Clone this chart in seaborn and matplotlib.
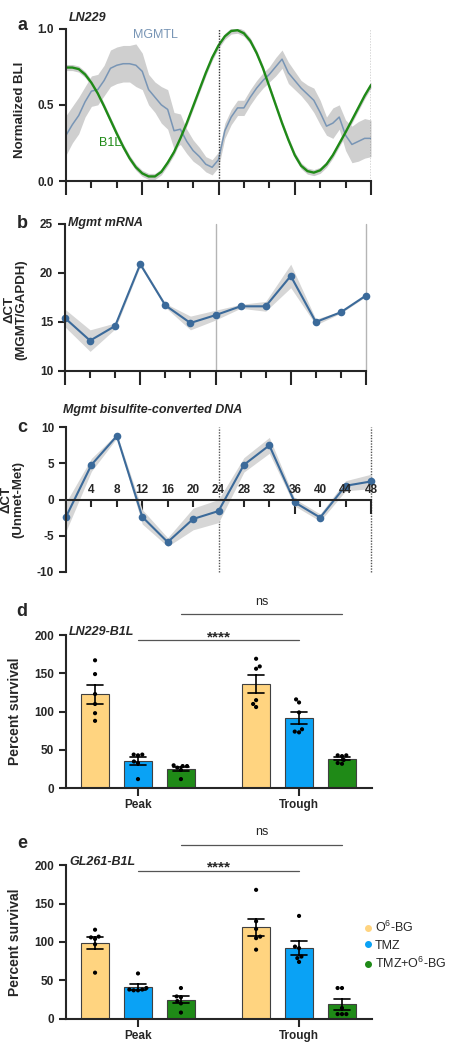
import pandas as pd
import seaborn as sns
from matplotlib import pyplot as plt
from matplotlib.lines import Line2D
from matplotlib.ticker import FixedLocator

px = 1/100

# ---- panel a: bioluminescence traces (hourly readings) ----
hours_a = list(range(49))
b1l = [0.745, 0.745, 0.735, 0.70, 0.645, 0.575, 0.49, 0.40, 0.31, 0.225,
       0.15, 0.09, 0.05, 0.03, 0.03, 0.06, 0.12, 0.19, 0.28, 0.38,
       0.49, 0.60, 0.71, 0.81, 0.89, 0.95, 0.985, 0.99, 0.97, 0.92,
       0.84, 0.74, 0.62, 0.50, 0.38, 0.27, 0.17, 0.10, 0.065, 0.055,
       0.07, 0.11, 0.17, 0.245, 0.32, 0.40, 0.48, 0.56, 0.63]
b1l_err = 0.02
mgmtl = [0.30, 0.37, 0.43, 0.52, 0.59, 0.60, 0.66, 0.74, 0.76, 0.77,
         0.77, 0.76, 0.72, 0.60, 0.55, 0.50, 0.47, 0.33, 0.34, 0.26,
         0.20, 0.16, 0.11, 0.09, 0.14, 0.33, 0.42, 0.48, 0.48, 0.55,
         0.61, 0.66, 0.70, 0.75, 0.80, 0.71, 0.66, 0.61, 0.57, 0.53,
         0.45, 0.36, 0.38, 0.42, 0.30, 0.24, 0.26, 0.28, 0.28]
mgmtl_err = [0.13, 0.12, 0.12, 0.10, 0.10, 0.10, 0.10, 0.12, 0.12, 0.12,
             0.12, 0.14, 0.12, 0.10, 0.10, 0.12, 0.13, 0.12, 0.10, 0.08,
             0.07, 0.06, 0.05, 0.05, 0.05, 0.05, 0.05, 0.05, 0.05, 0.05,
             0.05, 0.05, 0.05, 0.06, 0.06, 0.07, 0.06, 0.05, 0.06, 0.08,
             0.08, 0.06, 0.10, 0.08, 0.10, 0.12, 0.13, 0.13, 0.12]

# ---- panels b, c: qPCR every 4 h ----
hours = [0, 4, 8, 12, 16, 20, 24, 28, 32, 36, 40, 44, 48]
major_hours = [0, 12, 24, 36, 48]
minor_hours = [4, 8, 16, 20, 28, 32, 40, 44]
mrna = [15.4, 13.1, 14.6, 20.9, 16.7, 14.9, 15.7, 16.6, 16.6, 19.7, 15.0, 16.0, 17.7]
mrna_err = [0.9, 1.1, 0.3, 0.2, 0.2, 0.7, 0.5, 0.2, 0.5, 1.2, 0.3, 0.1, 0.1]
dna = [-2.4, 4.8, 8.8, -2.4, -5.9, -2.7, -1.6, 4.8, 7.5, -0.4, -2.5, 1.9, 2.5]
dna_err = [2.0, 0.9, 0.3, 1.0, 0.6, 1.5, 1.6, 1.0, 1.1, 0.5, 0.5, 0.7, 1.0]

# ---- panels d, e: survival ----
phases = ['Peak', 'Trough']
treatments = ['O$^6$-BG', 'TMZ', 'TMZ+O$^6$-BG']
colors = ['#ffd480', '#0aa2f5', '#1f8a17']

ln229 = {
    ('Peak', 'O$^6$-BG'): [167, 149, 123, 110, 98, 88],
    ('Peak', 'TMZ'): [44, 44, 43, 35, 33, 12],
    ('Peak', 'TMZ+O$^6$-BG'): [30, 29, 29, 27, 24, 12],
    ('Trough', 'O$^6$-BG'): [169, 159, 156, 115, 110, 106],
    ('Trough', 'TMZ'): [116, 112, 99, 77, 74, 73],
    ('Trough', 'TMZ+O$^6$-BG'): [43, 43, 42, 37, 33, 32],
}
gl261 = {
    ('Peak', 'O$^6$-BG'): [116, 107, 106, 104, 97, 60],
    ('Peak', 'TMZ'): [59, 40, 38, 38, 37, 37],
    ('Peak', 'TMZ+O$^6$-BG'): [40, 29, 28, 23, 20, 8],
    ('Trough', 'O$^6$-BG'): [168, 127, 117, 107, 105, 90],
    ('Trough', 'TMZ'): [134, 94, 92, 81, 79, 74],
    ('Trough', 'TMZ+O$^6$-BG'): [40, 40, 14, 6, 6, 6],
}

sns.set_style('ticks')
plt.rcParams['font.family'] = ['Liberation Sans', 'DejaVu Sans']
plt.rcParams['font.weight'] = 'bold'
plt.rcParams['axes.labelweight'] = 'bold'
plt.rcParams['axes.linewidth'] = 1.5
plt.rcParams['axes.unicode_minus'] = False
plt.rcParams['mathtext.default'] = 'regular'

TICK_FS = 8.5

W, H = 455, 1050
fig = plt.figure(figsize=(W*px, H*px), dpi=100)


def box(l, t, r, b):
    return [l/W, 1 - b/H, (r - l)/W, (b - t)/H]


def style_time(ax):
    ax.set_xlim(0, 48)
    ax.xaxis.set_major_locator(FixedLocator(major_hours))
    ax.xaxis.set_minor_locator(FixedLocator(minor_hours))
    ax.tick_params(axis='x', which='major', length=10, width=1.5, labelbottom=False)
    ax.tick_params(axis='x', which='minor', length=5, width=1.5)
    ax.tick_params(axis='y', length=5, width=1.5, labelsize=TICK_FS)
    ax.set_xlabel('')
    sns.despine(ax=ax)


def panel_letter(x, y, s):
    fig.text(x/W, 1 - y/H, s, fontsize=13, ha='center', va='center')


# ---- a ----
ax = fig.add_axes(box(66, 28.7, 371, 181))
ax.fill_between(hours_a, [m - e for m, e in zip(mgmtl, mgmtl_err)],
                [m + e for m, e in zip(mgmtl, mgmtl_err)], color='#cfcfcf', lw=0)
ax.fill_between(hours_a, [v - b1l_err for v in b1l], [v + b1l_err for v in b1l],
                color='#cccccc', lw=0)
sns.lineplot(x=hours_a, y=mgmtl, color='#7895b5', lw=1.1, ax=ax)
sns.lineplot(x=hours_a, y=b1l, color='#1f8a17', lw=1.7, ax=ax)
for h in [24, 48]:
    ax.axvline(h, color='#333333', lw=1, ls=(0, (1, 1)))
ax.set_ylim(0, 1.0)
ax.set_yticks([0, 0.5, 1.0])
style_time(ax)
ax.set_ylabel('Normalized BLI', fontsize=9.5)
ax.yaxis.set_label_coords(-0.13, 0.47)
ax.text(14.0, 0.96, 'MGMTL', color='#7895b5', fontsize=9, fontweight='normal',
        ha='center', va='center')
ax.text(7.0, 0.25, 'B1L', color='#1f8a17', fontsize=9, fontweight='normal',
        ha='center', va='center')
ax.text(0.01, 1.07, 'LN229', transform=ax.transAxes, fontsize=9, style='italic',
        va='center')
panel_letter(22, 26, 'a')

# ---- b ----
ax = fig.add_axes(box(65, 224, 366, 371))
ax.fill_between(hours, [m - e for m, e in zip(mrna, mrna_err)],
                [m + e for m, e in zip(mrna, mrna_err)], color='#d6d6d6', lw=0)
sns.lineplot(x=hours, y=mrna, color='#3b6a9a', lw=1.5, marker='o', markersize=5.5,
             markeredgewidth=0, ax=ax)
for h in [24, 48]:
    ax.axvline(h, color='#b5b5b5', lw=1, zorder=0)
ax.set_ylim(10, 25)
ax.set_yticks([10, 15, 20, 25])
style_time(ax)
for ln in ax.lines:
    ln.set_clip_on(False)
ax.set_ylabel('ΔCT\n(MGMT/GAPDH)', fontsize=9.5, linespacing=1.0)
ax.yaxis.set_label_coords(-0.125, 0.42)
ax.text(0.01, 1.01, 'Mgmt mRNA', transform=ax.transAxes, fontsize=9, style='italic',
        va='center')
panel_letter(22, 224, 'b')

# ---- c ----
ax = fig.add_axes(box(66, 427.3, 371, 571.7))
ax.fill_between(hours, [m - e for m, e in zip(dna, dna_err)],
                [m + e for m, e in zip(dna, dna_err)], color='#d6d6d6', lw=0)
sns.lineplot(x=hours, y=dna, color='#3b6a9a', lw=1.5, marker='o', markersize=5.5,
             markeredgewidth=0, ax=ax)
for h in [24, 48]:
    ax.axvline(h, color='#555555', lw=1, ls=(0, (1, 1)), zorder=0)
ax.set_ylim(-10, 10)
ax.set_yticks([-10, -5, 0, 5, 10])
style_time(ax)
ax.spines['bottom'].set_position(('data', 0))
for ln in ax.lines:
    ln.set_clip_on(False)
for h in hours[1:]:
    ax.annotate(str(h), (h, 0), xytext=(0, 2.5), textcoords='offset points',
                ha='center', va='bottom', fontsize=TICK_FS)
ax.set_ylabel('ΔCT\n(Unmet-Met)', fontsize=9.5, linespacing=1.0)
ax.yaxis.set_label_coords(-0.135, 0.5)
ax.text(-0.01, 1.12, 'Mgmt bisulfite-converted DNA', transform=ax.transAxes,
        fontsize=9, style='italic', va='center')
panel_letter(22, 427, 'c')


# ---- d, e ----
def long_table(d):
    rows = []
    for (ph, tr), vals in d.items():
        for v in vals:
            rows.append({'phase': ph, 'treatment': tr, 'value': v})
    return pd.DataFrame(rows)


def survival(rect, data, title, letter, letter_y):
    ax = fig.add_axes(rect)
    df = long_table(data)
    sns.barplot(data=df, x='phase', y='value', hue='treatment', order=phases,
                hue_order=treatments, palette=colors, saturation=1, errorbar='se',
                capsize=0.3, width=0.8, gap=0.33, edgecolor='#404040', linewidth=0.8,
                err_kws={'color': 'black', 'linewidth': 1.2}, legend=False, ax=ax)
    sns.swarmplot(data=df, x='phase', y='value', hue='treatment', order=phases,
                  hue_order=treatments, palette=['black'] * 3, dodge=True, size=3,
                  legend=False, ax=ax)
    ax.set_xlim(-0.447, 1.453)
    ax.set_ylim(0, 200)
    ax.set_yticks([0, 50, 100, 150, 200])
    ax.tick_params(axis='y', length=5, width=1.5, labelsize=TICK_FS)
    ax.tick_params(axis='x', length=6, width=1.5, labelsize=TICK_FS, pad=2)
    ax.set_xlabel('')
    ax.set_ylabel('Percent survival', fontsize=10)
    ax.yaxis.set_label_coords(-0.145, 0.5)
    sns.despine(ax=ax)
    step = 0.8 / 3
    # significance brackets
    ax.plot([0, 1], [193, 193], color='#555555', lw=0.9, clip_on=False)
    ax.text(0.5, 197, '****', ha='center', va='center', fontsize=11)
    ax.plot([step, 1 + step], [227, 227], color='#555555', lw=0.9, clip_on=False)
    ax.text(0.5 + step, 243, 'ns', ha='center', va='center', fontsize=9,
            fontweight='normal')
    ax.text(0.01, 1.02, title, transform=ax.transAxes, fontsize=9, style='italic',
            va='center')
    panel_letter(22, letter_y, letter)
    return ax


survival(box(66, 635, 372, 788.3), ln229, 'LN229-B1L', 'd', 611)
ax = survival(box(66, 865.3, 372, 1018.7), gl261, 'GL261-B1L', 'e', 843)

handles = [Line2D([], [], marker='o', ls='', color=c, markersize=4) for c in colors]
ax.legend(handles, treatments, loc='upper left', bbox_to_anchor=(364/W, 1 - 920/H),
          bbox_transform=fig.transFigure, frameon=False, handlelength=0.6,
          handletextpad=0.25, labelspacing=0.35, borderpad=0, borderaxespad=0,
          prop={'size': 9, 'weight': 'normal'})

plt.savefig('out.png', dpi=100)
